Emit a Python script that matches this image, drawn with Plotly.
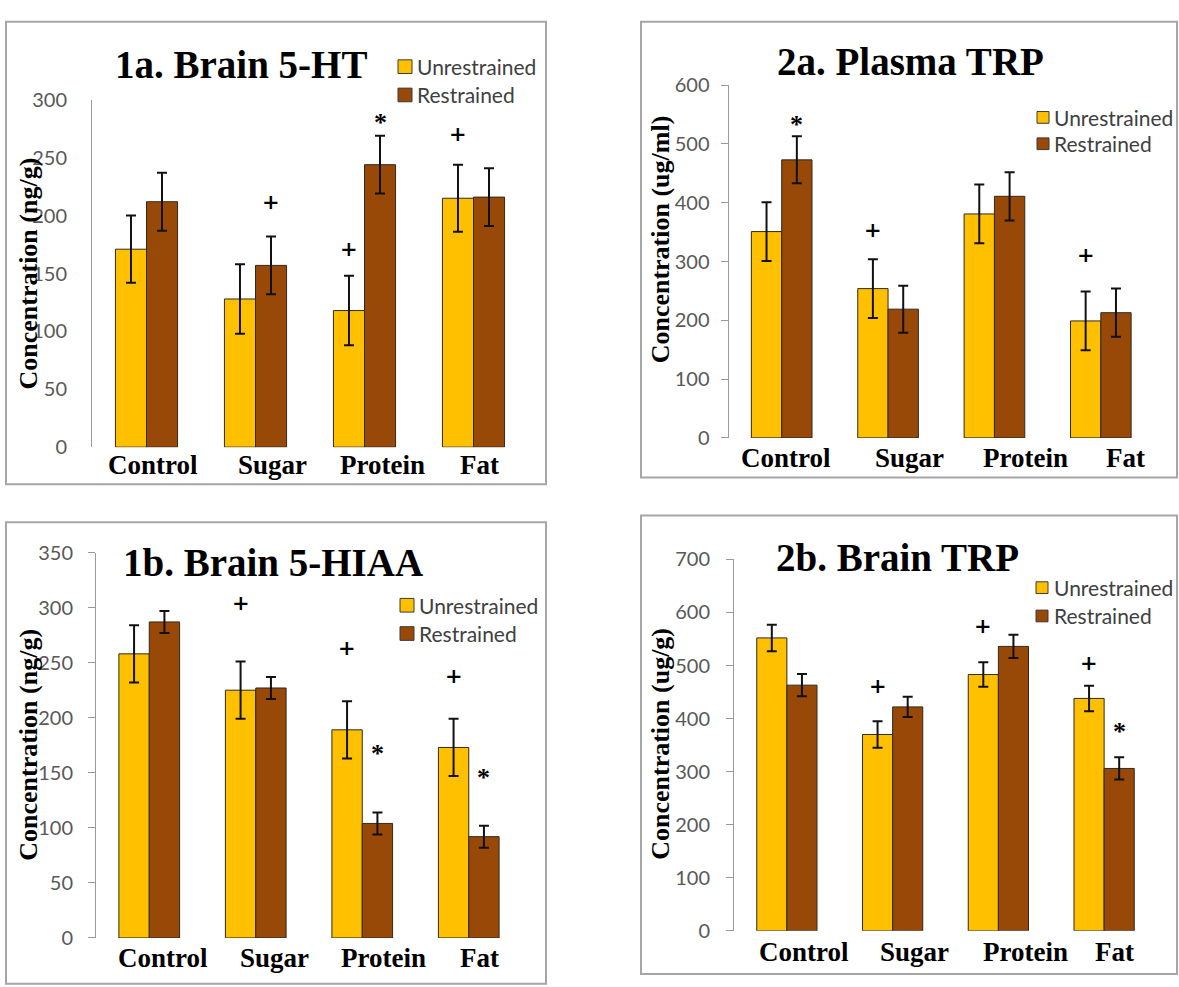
import plotly.graph_objects as go

W, H = 1179, 987

categories = ["Control", "Sugar", "Protein", "Fat"]
series_names = ["Unrestrained", "Restrained"]

# 1a. Brain 5-HT (ng/g)
ht_unres = [171, 128, 118, 215]
ht_unres_err = [29, 30, 30, 29]
ht_res = [212, 157, 244, 216]
ht_res_err = [25, 25, 25, 25]
ht_marks = [("+", "Sugar", 1, 211), ("+", "Protein", 0, 171), ("*", "Protein", 1, 284), ("+", "Fat", 0, 270)]

# 2a. Plasma TRP (ug/ml)
ptrp_unres = [351, 254, 381, 199]
ptrp_unres_err = [50, 50, 50, 50]
ptrp_res = [473, 219, 411, 213]
ptrp_res_err = [40, 40, 41, 41]
ptrp_marks = [("*", "Control", 1, 540), ("+", "Sugar", 0, 353), ("+", "Fat", 0, 311)]

# 1b. Brain 5-HIAA (ng/g)
hiaa_unres = [258, 225, 189, 173]
hiaa_unres_err = [26, 26, 26, 26]
hiaa_res = [287, 227, 104, 92]
hiaa_res_err = [10, 10, 10, 10]
hiaa_marks = [("+", "Sugar", 0, 304), ("+", "Protein", 0, 263), ("*", "Protein", 1, 171),
              ("+", "Fat", 0, 237), ("*", "Fat", 1, 149)]

# 2b. Brain TRP (ug/g)
btrp_unres = [552, 370, 483, 438]
btrp_unres_err = [25, 25, 23, 24]
btrp_res = [463, 422, 536, 306]
btrp_res_err = [21, 19, 22, 21]
btrp_marks = [("+", "Sugar", 0, 461), ("+", "Protein", 0, 574), ("+", "Fat", 0, 504), ("*", "Fat", 1, 384)]

y_ticks_1a = [0, 50, 100, 150, 200, 250, 300]
y_ticks_2a = [0, 100, 200, 300, 400, 500, 600]
y_ticks_1b = [0, 50, 100, 150, 200, 250, 300, 350]
y_ticks_2b = [0, 100, 200, 300, 400, 500, 600, 700]

COL_U = "#FFC000"
COL_R = "#984807"
OUTLINE = "#2e2a1e"
BARGAP = 0.43
SERIF = "Liberation Serif, Times New Roman, serif"
PLUS_FONT = "DejaVu Serif, Liberation Serif, serif"
SANS = "Lato, Carlito, Calibri, sans-serif"


def px_x(p):
    return p / W


def px_y(p):
    return 1 - p / H


panels = [
    dict(title="1a. Brain 5-HT", ylabel="Concentration (ng/g)",
         u=ht_unres, ue=ht_unres_err, r=ht_res, re=ht_res_err, marks=ht_marks, ticks=y_ticks_1a,
         xd=(92, 528), yd=(445, 89), ticklen=0, standoff=20,
         box=(6, 9, 546, 483), title_xy=(241, 53), ylab_xy=(29, 267),
         leg_sq=(398, 412), leg_txt=416, leg_rows=(55, 84), lab_shift=[6, 17, 18, 6], lab_dy=18),
    dict(title="2a. Plasma TRP", ylabel="Concentration (ug/ml)",
         u=ptrp_unres, ue=ptrp_unres_err, r=ptrp_res, re=ptrp_res_err, marks=ptrp_marks, ticks=y_ticks_2a,
         xd=(728.5, 1154), yd=(435.5, 74), ticklen=7, standoff=7,
         box=(641, 9, 1177, 476), title_xy=(910, 50), ylab_xy=(660, 232),
         leg_sq=(1037, 1049), leg_txt=1053, leg_rows=(107, 134), lab_shift=[4, 21, 31, 25], lab_dy=20),
    dict(title="1b. Brain 5-HIAA", ylabel="Concentration (ng/g)",
         u=hiaa_unres, ue=hiaa_unres_err, r=hiaa_res, re=hiaa_res_err, marks=hiaa_marks, ticks=y_ticks_1b,
         xd=(96, 522), yd=(948, 553), ticklen=7, standoff=11,
         box=(6, 522, 546, 995), title_xy=(273, 563), ylab_xy=(29, 750),
         leg_sq=(400, 414), leg_txt=418, leg_rows=(607, 636), lab_shift=[14, 19, 21, 11], lab_dy=20),
    dict(title="2b. Brain TRP", ylabel="Concentration (ug/g)",
         u=btrp_unres, ue=btrp_unres_err, r=btrp_res, re=btrp_res_err, marks=btrp_marks, ticks=y_ticks_2b,
         xd=(734, 1157), yd=(940.7, 560), ticklen=7, standoff=12,
         box=(641, 515, 1177, 985), title_xy=(897, 558), ylab_xy=(661, 749),
         leg_sq=(1036, 1048), leg_txt=1053, leg_rows=(589, 618), lab_shift=[17, 22, 27, 10], lab_dy=21),
]

fig = go.Figure()
layout = dict(width=W, height=H, margin=dict(l=0, r=0, t=0, b=0),
              paper_bgcolor="white", plot_bgcolor="rgba(0,0,0,0)",
              barmode="group", bargap=BARGAP, bargroupgap=0, showlegend=False,
              shapes=[], annotations=[])

half = (1 - BARGAP) / 4.0

for i, p in enumerate(panels):
    n = "" if i == 0 else str(i + 1)
    xa, ya = "x" + n, "y" + n
    top_range = p["ticks"][-1]
    for name, vals, errs, col in [(series_names[0], p["u"], p["ue"], COL_U),
                                  (series_names[1], p["r"], p["re"], COL_R)]:
        fig.add_trace(go.Bar(
            x=categories, y=vals, name=name, xaxis=xa, yaxis=ya, showlegend=False,
            marker=dict(color=col, line=dict(color=OUTLINE, width=1)),
            error_y=dict(type="data", array=errs, visible=True, color="#111111",
                         thickness=2, width=5),
        ))
    layout["xaxis" + n] = dict(domain=[px_x(p["xd"][0]), px_x(p["xd"][1])], anchor=ya,
                               type="category", range=[-0.5, 3.5], showticklabels=False,
                               showline=False, showgrid=False, zeroline=False, ticks="")
    layout["yaxis" + n] = dict(domain=[px_y(p["yd"][0]), px_y(p["yd"][1])], anchor=xa,
                               range=[0, top_range], tickvals=p["ticks"], showgrid=False,
                               zeroline=False, showline=True, linecolor="#9a9a9a", linewidth=1,
                               ticks="outside" if p["ticklen"] else "", ticklen=p["ticklen"],
                               tickcolor="#9a9a9a", ticklabelstandoff=p["standoff"],
                               tickfont=dict(family=SANS, size=20, color="#595959"))
    # panel frame
    x0, y0, x1, y1 = p["box"]
    layout["shapes"].append(dict(type="rect", xref="paper", yref="paper",
                                 x0=px_x(x0), x1=px_x(x1), y0=px_y(y1), y1=px_y(y0),
                                 line=dict(color="#a6a6a6", width=2), fillcolor="rgba(0,0,0,0)"))
    # legend (swatches + labels)
    sx0, sx1 = p["leg_sq"]
    sz = sx1 - sx0
    for name, col, ry in zip(series_names, [COL_U, COL_R], p["leg_rows"]):
        layout["shapes"].append(dict(type="rect", xref="paper", yref="paper",
                                     x0=px_x(sx0), x1=px_x(sx1),
                                     y0=px_y(ry + sz / 2), y1=px_y(ry - sz / 2),
                                     line=dict(color="#3a3a3a", width=1), fillcolor=col))
        layout["annotations"].append(dict(text=name, xref="paper", yref="paper",
                                          x=px_x(p["leg_txt"]), y=px_y(ry),
                                          xanchor="left", yanchor="middle", showarrow=False,
                                          borderpad=0,
                                          font=dict(family=SANS, size=21, color="#404040")))
    # title
    layout["annotations"].append(dict(text="<b>%s</b>" % p["title"], xref="paper", yref="paper",
                                      x=px_x(p["title_xy"][0]), y=px_y(p["title_xy"][1]),
                                      xanchor="center", yanchor="middle", showarrow=False,
                                      font=dict(family=SERIF, size=39, color="black")))
    # y title
    layout["annotations"].append(dict(text="<b>%s</b>" % p["ylabel"], xref="paper", yref="paper",
                                      x=px_x(p["ylab_xy"][0]), y=px_y(p["ylab_xy"][1]),
                                      xanchor="center", yanchor="middle", showarrow=False,
                                      textangle=-90,
                                      font=dict(family=SERIF, size=26, color="black")))
    # category labels
    for c, sh in zip(categories, p["lab_shift"]):
        layout["annotations"].append(dict(text="<b>%s</b>" % c, xref=xa, yref=ya, x=c, y=0,
                                          xshift=sh, yshift=-p["lab_dy"],
                                          xanchor="center", yanchor="middle", showarrow=False,
                                          font=dict(family=SERIF, size=27, color="black")))
    # significance marks
    for sym, cat, s, yv in p["marks"]:
        xi = categories.index(cat) + (-half if s == 0 else half)
        if sym == "+":
            fnt = dict(family=PLUS_FONT, size=21, color="black")
            ys = 1
        else:
            fnt = dict(family=SERIF, size=26, color="black")
            ys = -4
        layout["annotations"].append(dict(text="<b>%s</b>" % sym, xref=xa, yref=ya, x=xi, y=yv,
                                          xanchor="center", yanchor="middle", showarrow=False,
                                          yshift=ys, font=fnt))

fig.update_layout(**layout)
fig.write_html("out.html", config={"displayModeBar": False},
               post_script="document.body.style.margin='0px';document.body.style.overflow='hidden';")
